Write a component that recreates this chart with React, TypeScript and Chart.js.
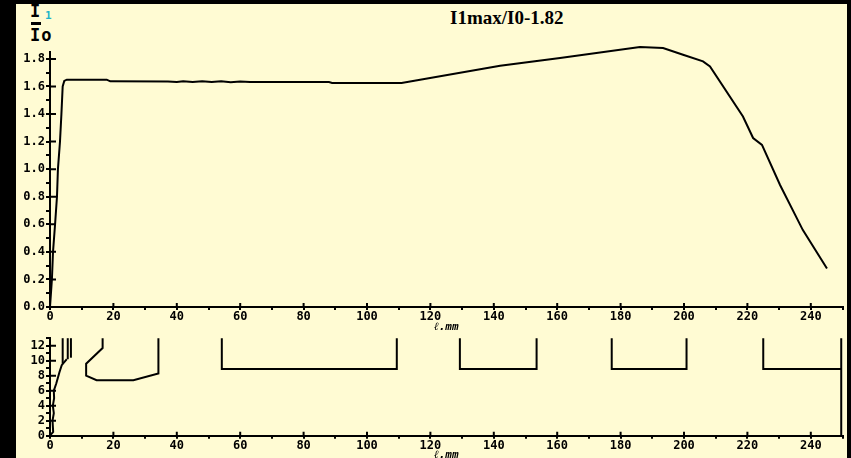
import React, { useEffect, useRef } from 'react';
import { Chart, registerables } from 'chart.js';

Chart.register(...registerables);

// ---- Data ----
// Upper chart: I1/I0 versus l (mm)
const curveX = [0, 0.6, 0.95, 1.6, 2.2, 2.5, 3.15, 3.6, 4.0, 4.5, 5.3, 17.9, 19, 37.2, 40, 42, 45, 48, 51, 54, 57, 60, 63.1, 88, 89, 110.9, 142, 160.9, 186.1, 193.4, 199.7, 206, 208.2, 218.6, 221.8, 224.6, 230.3, 237.5, 245.1];
const curveY = [0, 0.2, 0.4, 0.6, 0.8, 1.0, 1.2, 1.4, 1.6, 1.64, 1.649, 1.649, 1.637, 1.636, 1.632, 1.638, 1.632, 1.638, 1.632, 1.637, 1.63, 1.636, 1.633, 1.632, 1.625, 1.625, 1.75, 1.806, 1.887, 1.879, 1.83, 1.782, 1.745, 1.382, 1.226, 1.176, 0.885, 0.558, 0.279];

// Lower chart: profile traces
const rampX = [0, 1, 0.8, 1.2, 0.9, 1.3, 1.2, 2, 3, 3.7, 5.3];
const rampY = [0, 0.5, 2, 3, 4, 5, 6, 7, 8.5, 9.4, 10.2];
const barAX = [4, 4];
const barAY = [9.6, 13];
const barBX = [5.6, 5.6];
const barBY = [10.2, 13];
const barCX = [6.6, 6.6];
const barCY = [10.4, 13];
const cupX = [16.6, 16.6, 11.4, 11.4, 14.7, 26.3, 34.2, 34.2];
const cupY = [13, 11.7, 9.6, 8.0, 7.4, 7.4, 8.3, 13];
const slot1X = [54.2, 54.2, 109.4, 109.4];
const slot2X = [129.3, 129.3, 153.5, 153.5];
const slot3X = [177.2, 177.2, 200.8, 200.8];
const slotY = [13, 8.9, 8.9, 13];
const lastX = [225, 225, 249.6, 249.6, 249.6];
const lastY = [13, 8.9, 8.9, 13, 0];

// Axis settings
const xMin = 0;
const xMax = 250;
const xStep = 10;
const xMajor = 20;
const topYMax = 1.85;
const topYStep = 0.1;
const topYMajor = 0.2;
const botYMax = 13;
const botYStep = 1;
const botYMajor = 2;
const xTitle = 'ℓ.mm';
const chartTitle = 'I1max/I0-1.82';

const isMultiple = (v: number, m: number) => Math.abs(v / m - Math.round(v / m)) < 1e-6;
const pts = (xs: number[], ys: number[]) => xs.map((x, i) => ({ x, y: ys[i] }));

const tickFont = { family: 'DejaVu Sans Mono', size: 12, weight: 'bold' as const };

function innerTicks(yMajor: number) {
  return {
    id: 'innerTicks',
    afterDraw(chart: any) {
      const { ctx } = chart;
      const xs = chart.scales.x;
      const ys = chart.scales.y;
      ctx.save();
      ctx.strokeStyle = '#000';
      ctx.lineWidth = 2;
      ctx.beginPath();
      xs.ticks.forEach((t: any) => {
        if (isMultiple(t.value, xMajor) && t.value > 0) {
          const p = xs.getPixelForValue(t.value);
          ctx.moveTo(p, xs.top);
          ctx.lineTo(p, xs.top - 4);
        }
      });
      ys.ticks.forEach((t: any) => {
        if (isMultiple(t.value, yMajor) && t.value > 0) {
          const p = ys.getPixelForValue(t.value);
          ctx.moveTo(ys.right, p);
          ctx.lineTo(ys.right + 6, p);
        }
      });
      ctx.stroke();
      ctx.restore();
    },
  };
}

function makeConfig(
  datasets: any[],
  yMax: number,
  yStep: number,
  yMajor: number,
  yDigits: number,
  padTop: number,
  xHeight: number,
  titlePadBottom: number
): any {
  return {
    type: 'scatter',
    data: { datasets },
    options: {
      animation: false,
      responsive: false,
      maintainAspectRatio: false,
      layout: { padding: { top: padTop, right: 4.5, left: 0, bottom: 0 } },
      plugins: {
        legend: { display: false },
        tooltip: { enabled: false },
        title: { display: false },
      },
      elements: { point: { radius: 0 } },
      scales: {
        x: {
          type: 'linear',
          position: 'bottom',
          min: xMin,
          max: xMax,
          ticks: {
            stepSize: xStep,
            includeBounds: false,
            autoSkip: false,
            maxRotation: 0,
            padding: 0,
            color: '#000',
            font: tickFont,
            callback: (v: number) => (isMultiple(v, xMajor) ? String(v) : ''),
          },
          grid: { drawOnChartArea: false, drawTicks: true, tickLength: 3, color: '#000', lineWidth: 2 },
          border: { display: true, color: '#000', width: 2 },
          title: {
            display: true,
            text: xTitle,
            color: '#000',
            font: { family: 'DejaVu Sans Mono', size: 11, weight: 'bold', style: 'italic' },
            padding: { top: 0, bottom: titlePadBottom },
          },
          afterFit: (s: any) => {
            s.height = xHeight;
          },
        },
        y: {
          type: 'linear',
          min: 0,
          max: yMax,
          ticks: {
            stepSize: yStep,
            includeBounds: false,
            autoSkip: false,
            padding: 1,
            color: '#000',
            font: tickFont,
            callback: (v: number) => (isMultiple(v, yMajor) ? Number(v).toFixed(yDigits) : ''),
          },
          grid: { drawOnChartArea: false, drawTicks: true, tickLength: 4, color: '#000', lineWidth: 2 },
          border: { display: true, color: '#000', width: 2 },
          afterFit: (s: any) => {
            s.width = 34;
          },
        },
      },
    },
    plugins: [innerTicks(yMajor)],
  };
}

const line = (data: any[]) => ({
  data,
  showLine: true,
  borderColor: '#000',
  borderWidth: 2,
  pointRadius: 0,
  fill: false,
  tension: 0,
  clip: false,
});

export default function App() {
  const topRef = useRef<HTMLCanvasElement>(null);
  const botRef = useRef<HTMLCanvasElement>(null);

  useEffect(() => {
    const top = new Chart(
      topRef.current as HTMLCanvasElement,
      makeConfig([line(pts(curveX, curveY))], topYMax, topYStep, topYMajor, 1, 48, 27, 0)
    );
    const bot = new Chart(
      botRef.current as HTMLCanvasElement,
      makeConfig(
        [
          line(pts(rampX, rampY)),
          line(pts(barAX, barAY)),
          line(pts(barBX, barBY)),
          line(pts(barCX, barCY)),
          line(pts(cupX, cupY)),
          line(pts(slot1X, slotY)),
          line(pts(slot2X, slotY)),
          line(pts(slot3X, slotY)),
          line(pts(lastX, lastY)),
        ],
        botYMax,
        botYStep,
        botYMajor,
        0,
        3,
        22.3,
        -4
      )
    );
    return () => {
      top.destroy();
      bot.destroy();
    };
  }, []);

  return (
    <div
      style={{
        position: 'absolute',
        left: 0,
        top: 0,
        width: 851,
        height: 458,
        background: '#000',
        overflow: 'hidden',
      }}
    >
      <div
        style={{
          position: 'absolute',
          left: 16,
          top: 4,
          width: 831,
          height: 454,
          background: 'rgb(255,251,211)',
        }}
      />
      <div
        style={{
          position: 'absolute',
          left: 450,
          top: 8,
          fontFamily: 'Liberation Serif',
          fontWeight: 'bold',
          fontSize: 19,
          lineHeight: '19px',
          color: '#000',
          whiteSpace: 'nowrap',
        }}
      >
        {chartTitle}
      </div>
      <div
        style={{
          position: 'absolute',
          left: 30,
          top: 3,
          fontFamily: 'DejaVu Sans Mono',
          fontWeight: 'bold',
          fontSize: 17,
          lineHeight: '17px',
          color: '#000',
        }}
      >
        I
      </div>
      <div
        style={{
          position: 'absolute',
          left: 45,
          top: 10,
          fontFamily: 'DejaVu Sans Mono',
          fontWeight: 'bold',
          fontSize: 11,
          lineHeight: '11px',
          color: 'rgb(30,180,200)',
        }}
      >
        1
      </div>
      <div style={{ position: 'absolute', left: 31, top: 22, width: 10, height: 3, background: '#000' }} />
      <div
        style={{
          position: 'absolute',
          left: 30,
          top: 27,
          fontFamily: 'DejaVu Sans Mono',
          fontWeight: 'bold',
          fontSize: 17,
          lineHeight: '17px',
          color: '#000',
          letterSpacing: 1,
        }}
      >
        Io
      </div>
      <canvas
        ref={topRef}
        width={831}
        height={330}
        style={{ position: 'absolute', left: 16, top: 4, width: 831, height: 330 }}
      />
      <canvas
        ref={botRef}
        width={831}
        height={128}
        style={{ position: 'absolute', left: 16, top: 330, width: 831, height: 128 }}
      />
    </div>
  );
}
